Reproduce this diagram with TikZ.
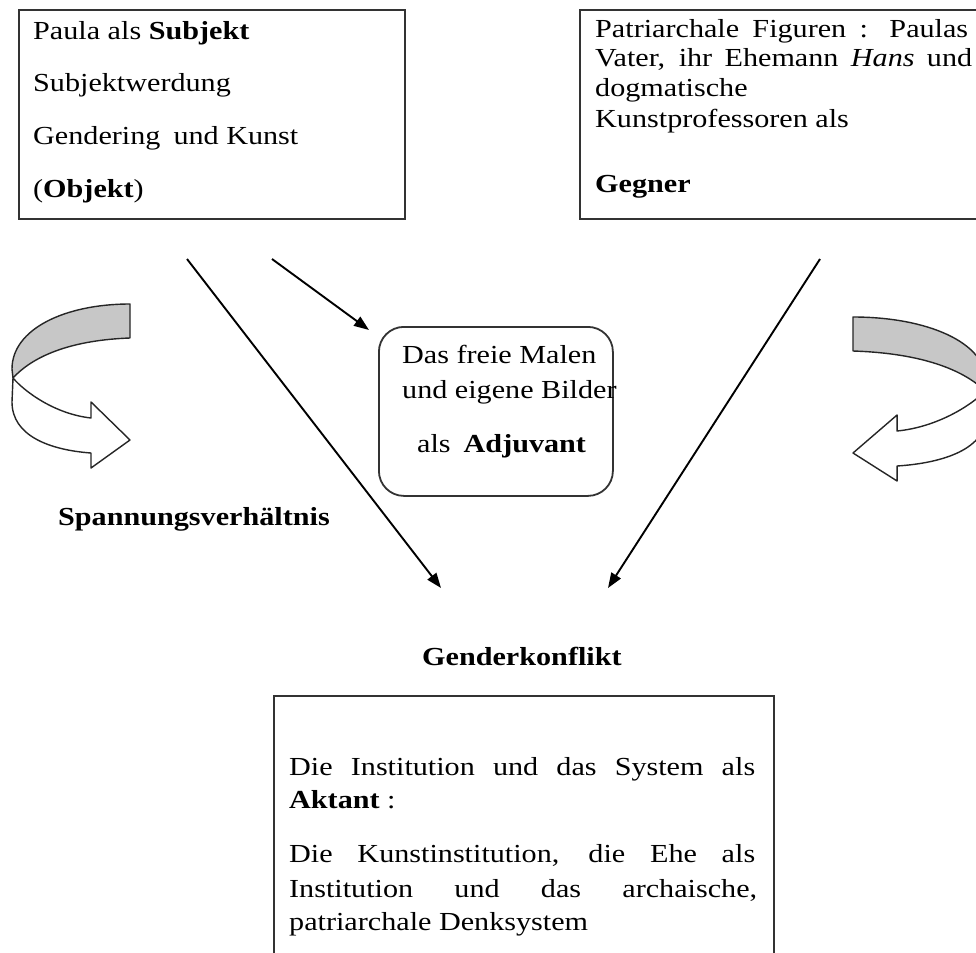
\documentclass[tikz,border=0pt]{standalone}
\usepackage{fontspec}
\setmainfont[FakeStretch=1.16]{Liberation Serif}
\usetikzlibrary{arrows.meta}
\begin{document}
\begin{tikzpicture}[x=1pt,y=-1pt,
  boxline/.style={draw=black!80, line width=1.8pt},
  txt/.style={anchor=base west, inner sep=0pt, font=\fontsize{26}{30}\selectfont},
  conn/.style={line width=1.9pt, -{Triangle[length=15pt,width=11pt]}},
  ribbon/.style={draw=black!85, line width=1.4pt, line join=round}]
\useasboundingbox (0,0) rectangle (976,952);
\clip (0,0) rectangle (976,952);
\fill[white] (0,0) rectangle (976,952);

% boxes
\node[boxline, anchor=north west, minimum width=386pt, minimum height=209pt, inner sep=0pt] (subj) at (18,9) {};
\node[boxline, anchor=north west, minimum width=420pt, minimum height=209pt, inner sep=0pt] (gegner) at (579,9) {};
\node[boxline, rounded corners=25pt, anchor=north west, minimum width=234pt, minimum height=169pt, inner sep=0pt] (adj) at (378,326) {};
\node[boxline, anchor=north west, minimum width=500pt, minimum height=280pt, inner sep=0pt] (aktant) at (273,695) {};

% box 1 text
\node[txt] (s1) at (33,40) {Paula als \textbf{Subjekt}};
\node[txt] (s2) at (33,92) {Subjektwerdung};
\node[txt] (s3) at (33,145) {Gendering\hspace{0.5em}und Kunst};
\node[txt] (s4) at (33,197) {(\textbf{Objekt})};

% box 2 text
\node[txt] (g1) at (595,38) {\makebox[373pt][s]{Patriarchale Figuren : Paulas}};
\node[txt] (g2) at (595,67) {\makebox[377pt][s]{Vater, ihr Ehemann \textit{Hans} und}};
\node[txt] (g3) at (595,97) {dogmatische};
\node[txt] (g4) at (595,128) {Kunstprofessoren als};
\node[txt] (g5) at (595,192) {\textbf{Gegner}};

% adjuvant text
\node[txt] (a1) at (402,363) {Das freie Malen};
\node[txt] (a2) at (402,398) {und eigene Bilder};
\node[txt] (a3) at (417,452) {als\hspace{0.5em}\textbf{Adjuvant}};

% labels
\node[txt] (spann) at (58,525) {\textbf{Spannungsverh\"altnis}};
\node[txt] (gk) at (422,665) {\textbf{Genderkonflikt}};

% bottom box text
\node[txt] (b1) at (289,775) {\makebox[466pt][s]{Die Institution und das System als}};
\node[txt] (b2) at (289,808) {\textbf{Aktant} :};
\node[txt] (b3) at (289,862) {\makebox[466pt][s]{Die Kunstinstitution, die Ehe als}};
\node[txt] (b4) at (289,897) {\makebox[468pt][s]{Institution und das archaische,}};
\node[txt] (b5) at (289,930) {patriarchale Denksystem};

% connectors
\coordinate (c1s) at (187,259);
\coordinate (c1e) at (441,588);
\coordinate (c2s) at (272,259);
\coordinate (c2e) at (369,330);
\coordinate (c3s) at (820,259);
\coordinate (c3e) at (608,588);
\draw[conn] (c1s) -- (c1e);
\draw[conn] (c2s) -- (c2e);
\draw[conn] (c3s) -- (c3e);

% left curved arrow
\begin{scope}[shift={(130,304)}]
  \filldraw[ribbon, fill=black!22] (0,0) .. controls (-65,0) and (-118,25) .. (-118,65) -- (-117,74)
    .. controls (-95,50) and (-55,36) .. (0,34) -- cycle;
  \filldraw[ribbon, fill=white] (-117,74) -- (-118,98) .. controls (-118,132) and (-80,146) .. (-39,149)
    -- (-39,164) -- (0,136) -- (-39,98) -- (-39,114) .. controls (-75,110) and (-105,88) .. cycle;
\end{scope}

% right curved arrow
\begin{scope}[shift={(853,317)}, xscale=-1.13]
  \filldraw[ribbon, fill=black!22] (0,0) .. controls (-65,0) and (-118,25) .. (-118,65) -- (-117,74)
    .. controls (-95,50) and (-55,36) .. (0,34) -- cycle;
  \filldraw[ribbon, fill=white] (-117,74) -- (-118,98) .. controls (-118,132) and (-80,146) .. (-39,149)
    -- (-39,164) -- (0,136) -- (-39,98) -- (-39,114) .. controls (-75,110) and (-105,88) .. cycle;
\end{scope}
\end{tikzpicture}
\end{document}
